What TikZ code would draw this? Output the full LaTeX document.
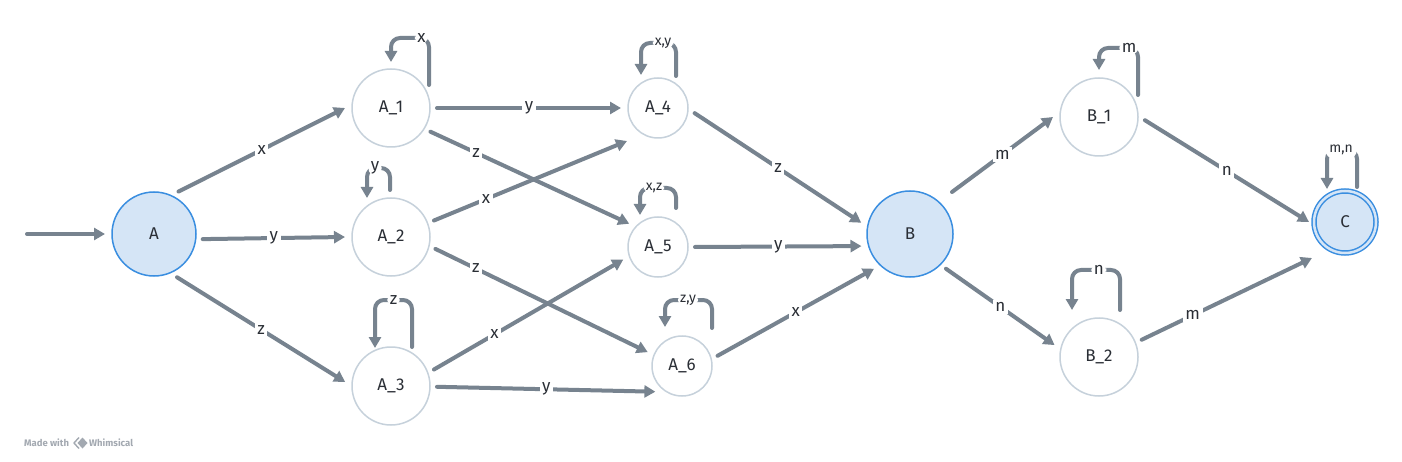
\documentclass[tikz,border=0pt]{standalone}
\usepackage{fontspec}
\setmainfont{Fira Sans}
\usetikzlibrary{arrows.meta,calc}
\definecolor{edgec}{HTML}{77838F}
\definecolor{nodeb}{HTML}{C6D1DB}
\definecolor{blueb}{HTML}{3A8EE0}
\definecolor{bluef}{HTML}{D5E5F6}
\definecolor{txt}{HTML}{2A2E35}
\definecolor{wmc}{HTML}{A3A9B1}
\begin{document}
\begin{tikzpicture}[x=1pt,y=-1pt,
  st/.style={circle, draw=nodeb, line width=1.5pt, fill=white, text=txt,
    font=\fontsize{17}{19}\selectfont, inner sep=0pt, outer sep=7pt},
  big/.style={st, minimum size=78pt},
  small/.style={st, minimum size=60pt},
  term/.style={st, draw=blueb, fill=bluef, minimum size=84pt},
  edge/.style={draw=edgec, line width=4pt, line cap=round,
    -{Triangle[length=11pt,width=12pt]}},
  lp/.style={edge, rounded corners=9pt},
  lbl/.style={fill=white, text=txt, inner sep=2.5pt, font=\fontsize{17}{19}\selectfont},
  slbl/.style={fill=white, text=txt, inner sep=2pt, font=\fontsize{14}{16}\selectfont},
  wmt/.style={text=wmc, inner sep=0pt, font=\bfseries\fontsize{9.5}{11}\selectfont}
]
\useasboundingbox[fill=white] (0,0) rectangle (1402,462);

% nodes
\node[term] (A) at (154,234) {A};
\node[big] (A1) at (391,108) {A\_1};
\node[big] (A2) at (391,237) {A\_2};
\node[big] (A3) at (391,386) {A\_3};
\node[small] (A4) at (658,108) {A\_4};
\node[small] (A5) at (658,247) {A\_5};
\node[small] (A6) at (682,366) {A\_6};
\node[term, minimum size=86pt] (B) at (910,234) {B};
\node[big] (B1) at (1099,117) {B\_1};
\node[big] (B2) at (1099,357) {B\_2};
\node[circle, draw=blueb, line width=1.5pt, double=bluef, double distance=2.5pt,
  fill=bluef, text=txt, font=\fontsize{17}{19}\selectfont, inner sep=0pt,
  minimum size=62pt, outer sep=5pt] (C) at (1345,222) {C};

% start arrow
\coordinate (s) at (27,234);
\draw[edge] (s) -- (A.180);

% edges
\draw[edge] (A.60) -- node[lbl]{x} (A1.180);
\draw[edge] (A.-6) -- node[lbl]{y} (A2.180);
\draw[edge] (A.-62) -- node[lbl]{z} (A3.175);
\draw[edge] (A1.0) -- node[lbl]{y} (A4.180);
\draw[edge] (A1.-31) -- node[lbl,pos=0.23]{z} (A5.141);
\draw[edge] (A2.21) -- node[lbl,pos=0.27]{x} ($(A4)+(-31,33)$);
\draw[edge] (A2.-15) -- node[lbl,pos=0.19]{z} (A6.158);
\draw[edge] (A3.21) -- node[lbl,pos=0.32]{x} (A5.-160);
\draw[edge] (A3.-1) -- node[lbl]{y} (A6.224);
\draw[edge] (A4.-8) -- node[lbl]{z} (B.167);
\draw[edge] (A5.0) -- node[lbl]{y} (B.-166);
\draw[edge] (A6.16) -- node[lbl]{x} (B.224);
\draw[edge] ($(B)+(42,-42)$) -- node[lbl]{m} (B1.180);
\draw[edge] (B.-44) -- node[lbl]{n} (B2.165);
\draw[edge] (B1.-4) -- node[lbl]{n} (C.180);
\draw[edge] (B2.22) -- node[lbl,pos=0.3]{m} ($(C)+(-33,36)$);

% self loops
\draw[lp] ($(A1)+(38,-23)$) -- ($(A1)+(38,-70)$) -- node[lbl,pos=0.2]{x} ($(A1)+(0,-70)$) -- ($(A1)+(0,-46)$);
\draw[lp] ($(A2)+(-1,-47)$) -- ($(A2)+(-1,-69)$) -- node[lbl,pos=0.65]{y} ($(A2)+(-24,-69)$) -- ($(A2)+(-24,-39)$);
\draw[lp] ($(A3)+(21,-39)$) -- ($(A3)+(21,-86)$) -- node[lbl,pos=0.5]{z} ($(A3)+(-16,-86)$) -- ($(A3)+(-16,-38)$);
\draw[lp] ($(A4)+(18,-32)$) -- ($(A4)+(18,-65)$) -- node[slbl,pos=0.37]{x,y} ($(A4)+(-17,-65)$) -- ($(A4)+(-17,-33)$);
\draw[lp] ($(A5)+(18,-39)$) -- ($(A5)+(18,-59)$) -- node[slbl,pos=0.61]{x,z} ($(A5)+(-18,-59)$) -- ($(A5)+(-18,-32)$);
\draw[lp] ($(A6)+(30,-38)$) -- ($(A6)+(30,-66)$) -- node[slbl,pos=0.51]{z,y} ($(A6)+(-17,-66)$) -- ($(A6)+(-17,-39)$);
\draw[lp] ($(B1)+(39,-22)$) -- ($(B1)+(39,-69)$) -- node[lbl,pos=0.23]{m} ($(B1)+(0,-69)$) -- ($(B1)+(0,-47)$);
\draw[lp] ($(B2)+(21,-47)$) -- ($(B2)+(21,-87)$) -- node[lbl,pos=0.44]{n} ($(B2)+(-27,-87)$) -- ($(B2)+(-27,-47)$);
\draw[lp] ($(C)+(12,-35)$) -- ($(C)+(12,-72)$) -- node[slbl,pos=0.53,inner sep=4pt]{m,n} ($(C)+(-18,-72)$) -- ($(C)+(-18,-33)$);

% watermark
\node[wmt, anchor=west] (wm1) at (24,443) {Made with};
\draw[wmc, line width=1.4pt, line join=round] (79,437.5) -- (74,443) -- (79,448.5);
\fill[wmc] (82.5,437.5) -- (87.5,443) -- (82.5,448.5) -- (77.5,443) -- cycle;
\node[wmt, anchor=west] (wm2) at (89,443) {Whimsical};
\end{tikzpicture}
\end{document}
